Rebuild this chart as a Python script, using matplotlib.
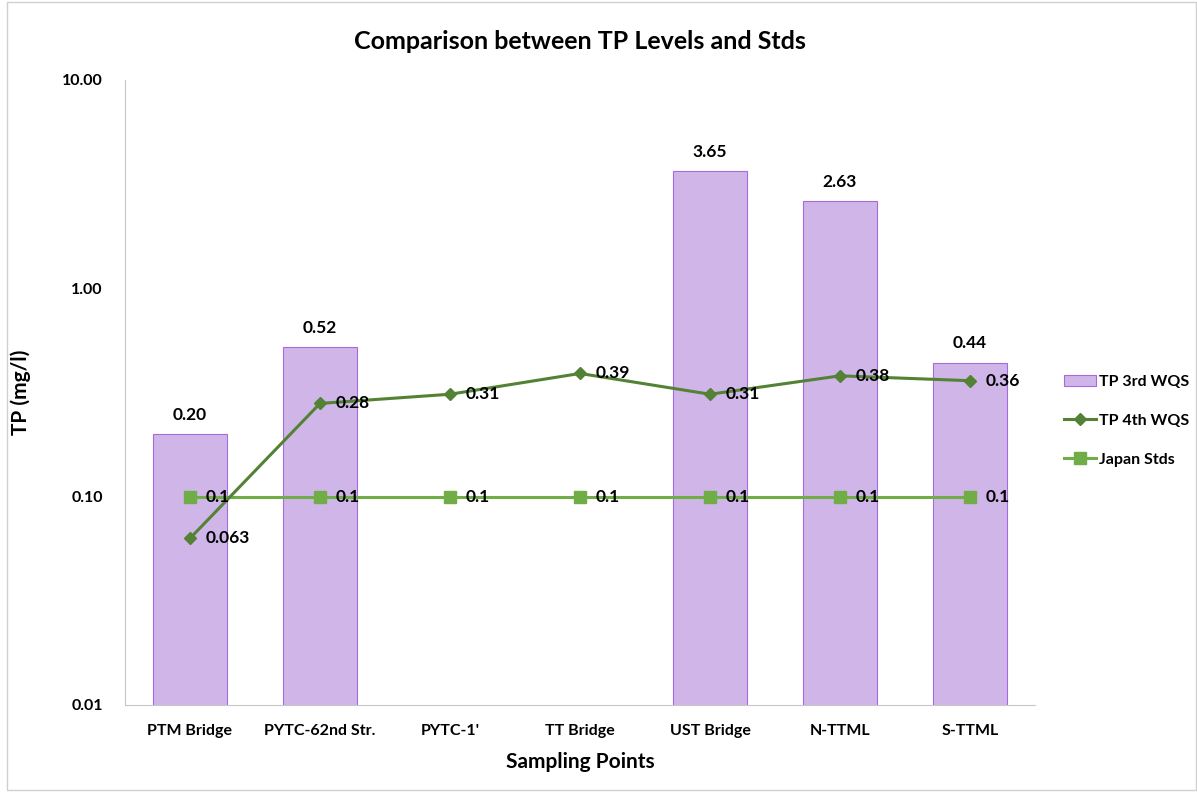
import numpy as np
import matplotlib.pyplot as plt
from matplotlib.patches import Rectangle

# data
points = ['PTM Bridge', 'PYTC-62nd Str.', "PYTC-1'", 'TT Bridge', 'UST Bridge', 'N-TTML', 'S-TTML']
tp_3rd = [0.20, 0.52, np.nan, np.nan, 3.65, 2.63, 0.44]
tp_4th = [0.063, 0.28, 0.31, 0.39, 0.31, 0.38, 0.36]
japan_std = [0.1, 0.1, 0.1, 0.1, 0.1, 0.1, 0.1]
lbl_4th = ['0.063', '0.28', '0.31', '0.39', '0.31', '0.38', '0.36']

plt.rcParams['font.family'] = ['Lato', 'DejaVu Sans']
plt.rcParams['font.weight'] = 'bold'

fig = plt.figure(figsize=(11.97, 7.92), dpi=100)
ax = fig.add_axes([0.1044, 0.110, 0.7603, 0.789])
fig.patches.append(Rectangle((0.006, 0.002), 0.993, 0.996, transform=fig.transFigure,
                             fill=False, edgecolor='#d0d0d0', lw=1))

x = np.arange(len(points))
bars = ax.bar(x, tp_3rd, width=0.57, color='#d0b6e8', edgecolor='#a66ae0', lw=0.8,
              label='TP 3rd WQS', zorder=2)
for xi, v in zip(x, tp_3rd):
    if not np.isnan(v):
        ax.annotate(f'{v:.2f}', (xi, v), xytext=(0, 8), textcoords='offset points',
                    ha='center', va='bottom', fontsize=12.5, fontweight='bold')

l4, = ax.plot(x, tp_4th, color='#548235', lw=2.2, marker='D', ms=6, label='TP 4th WQS', zorder=4)
lj, = ax.plot(x, japan_std, color='#70ad47', lw=2.2, marker='s', ms=8, label='Japan Stds', zorder=3)
for xi, v, s in zip(x, tp_4th, lbl_4th):
    ax.annotate(s, (xi, v), xytext=(11, 0), textcoords='offset points',
                ha='left', va='center', fontsize=12.5, fontweight='bold', zorder=5)
for xi, v in zip(x, japan_std):
    ax.annotate('0.1', (xi, v), xytext=(11, 0), textcoords='offset points',
                ha='left', va='center', fontsize=12.5, fontweight='bold', zorder=5)

ax.set_yscale('log')
ax.set_ylim(0.01, 10)
ax.set_xlim(-0.5, len(points) - 0.5)
ax.set_yticks([0.01, 0.1, 1, 10])
ax.set_yticklabels(['0.01', '0.10', '1.00', '10.00'])
ax.minorticks_off()
ax.set_xticks(x)
ax.set_xticklabels(points)
ax.tick_params(length=0, labelsize=11.5, pad=14)
ax.tick_params(axis='y', pad=16)
for lab in ax.get_xticklabels() + ax.get_yticklabels():
    lab.set_fontweight('bold')

for s in ['top', 'right']:
    ax.spines[s].set_visible(False)
ax.spines['left'].set_color('#c8c8c8')
ax.spines['bottom'].set_color('#c8c8c8')

ax.set_xlabel('Sampling Points', fontsize=15, fontweight='bold', labelpad=10)
ax.set_ylabel('TP (mg/l)', fontsize=15, fontweight='bold', labelpad=22)
ax.set_title('Comparison between TP Levels and Stds', fontsize=18, fontweight='bold', pad=22)

ax.legend([bars, l4, lj], ['TP 3rd WQS', 'TP 4th WQS', 'Japan Stds'],
          loc='center left', bbox_to_anchor=(1.025, 0.455), frameon=False, fontsize=11.5,
          handlelength=2.0, labelspacing=1.55, handletextpad=0.2, borderaxespad=0)

fig.savefig('out.png', dpi=100)
